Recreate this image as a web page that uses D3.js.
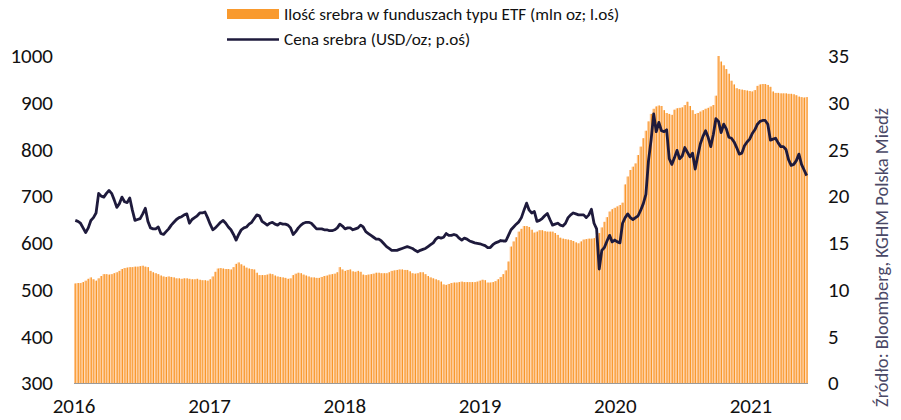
<!DOCTYPE html>
<html>
<head>
<meta charset="utf-8">
<script src="https://cdn.jsdelivr.net/npm/d3@7"></script>
<style>
  body { margin: 0; background: #fff; }
  text { font-family: Carlito, Calibri, Lato, sans-serif; }
</style>
</head>
<body>
<script>
let w = 901;
let h = 420;

// weekly observations, first week starting 2016-01-01
const startDate = new Date(2016, 0, 1);

// ETF silver holdings, mln oz (left axis)
const etfHoldings = [
  513, 514, 514, 516, 519, 523, 526, 522, 519, 524,
  529, 533, 533, 532, 533, 535, 537, 540, 544, 546,
  547, 548, 548, 549, 549, 550, 551, 549, 548, 540,
  537, 535, 533, 530, 528, 527, 528, 527, 526, 524,
  524, 523, 524, 524, 523, 522, 522, 523, 521, 520,
  520, 519, 522, 528, 538, 545, 546, 545, 544, 544,
  543, 548, 555, 558, 554, 551, 547, 545, 544, 543,
  536, 531, 531, 531, 532, 534, 533, 530, 528, 527,
  526, 525, 523, 524, 531, 534, 536, 535, 532, 530,
  528, 526, 526, 525, 525, 527, 529, 530, 532, 533,
  534, 537, 548, 543, 540, 542, 543, 539, 538, 540,
  538, 532, 531, 532, 533, 534, 536, 536, 535, 535,
  535, 537, 540, 541, 542, 543, 543, 542, 542, 539,
  535, 534, 535, 537, 537, 533, 529, 526, 524, 522,
  520, 517, 511, 510, 512, 514, 515, 515, 516, 517,
  516, 516, 516, 516, 516, 517, 519, 521, 520, 515,
  515, 516, 518, 522, 527, 533, 541, 560, 592, 603,
  612, 624, 630, 636, 636, 634, 628, 622, 624, 627,
  627, 625, 624, 624, 624, 621, 617, 611, 609, 608,
  607, 606, 604, 601, 599, 603, 607, 608, 609, 609,
  610, 614, 621, 633, 645, 655, 667, 672, 675, 678,
  681, 686, 725, 742, 756, 763, 770, 788, 806, 824,
  840, 860, 876, 887, 892, 894, 893, 884, 878, 876,
  874, 885, 888, 889, 890, 895, 902, 893, 884, 876,
  878, 881, 884, 887, 889, 892, 895, 915, 1000, 988,
  980, 972, 962, 947, 939, 931, 929, 928, 927, 926,
  925, 924, 927, 936, 939, 940, 940, 938, 934, 924,
  921, 921, 920, 920, 920, 919, 919, 918, 916, 913,
  912, 911, 912
];

// silver price, USD/oz (right axis)
const silverPrice = [
  17.4, 17.3, 17.1, 16.6, 16.1, 16.6, 17.4, 17.7, 18.2, 20.3,
  20.0, 19.9, 20.3, 20.6, 20.3, 19.6, 18.8, 19.2, 19.9, 19.4,
  19.3, 19.8, 18.5, 17.4, 17.5, 17.6, 18.1, 18.7, 17.3, 16.6,
  16.5, 16.5, 16.7, 16.0, 15.9, 16.2, 16.5, 16.9, 17.2, 17.5,
  17.7, 17.8, 18.0, 18.1, 17.1, 17.5, 17.7, 17.9, 18.2, 18.2,
  18.3, 17.7, 17.0, 16.4, 16.6, 16.9, 17.2, 17.4, 17.1, 16.7,
  16.4, 15.9, 15.3, 15.9, 16.4, 16.6, 16.7, 17.0, 17.2, 17.6,
  18.0, 17.9, 17.3, 17.1, 16.9, 17.1, 17.2, 17.0, 16.9, 17.1,
  17.0, 17.0, 16.9, 16.6, 15.9, 16.2, 16.6, 16.9, 17.1, 17.2,
  17.2, 17.1, 16.8, 16.5, 16.5, 16.5, 16.4, 16.4, 16.3, 16.3,
  16.4, 16.6, 17.0, 16.8, 16.5, 16.6, 16.6, 16.4, 16.5, 16.6,
  16.9, 16.7, 16.2, 16.0, 15.8, 15.6, 15.4, 15.4, 15.2, 14.9,
  14.6, 14.4, 14.2, 14.2, 14.2, 14.3, 14.4, 14.5, 14.6, 14.5,
  14.4, 14.2, 14.05, 14.2, 14.3, 14.4, 14.6, 14.8, 15.0, 15.4,
  15.6, 15.5, 15.6, 16.0, 15.8, 15.8, 15.9, 15.8, 15.5, 15.3,
  15.5, 15.4, 15.2, 15.1, 15.0, 14.95, 14.9, 14.8, 14.7, 14.5,
  14.5, 14.8, 15.0, 15.1, 15.25, 15.2, 15.2, 15.8, 16.4, 16.7,
  17.0, 17.25, 17.7, 18.5, 19.25, 18.5, 18.2, 18.35, 17.3, 17.4,
  17.6, 17.9, 18.15, 17.5, 16.9, 17.0, 17.1, 16.9, 16.8, 17.1,
  17.7, 18.0, 18.2, 18.1, 18.0, 18.0, 18.0, 17.7, 18.0, 18.6,
  17.1, 16.5, 12.2, 14.2, 14.5, 15.2, 15.8, 15.1, 15.3, 15.1,
  15.0, 17.1, 17.7, 18.1, 17.7, 17.5, 17.7, 17.9, 18.5, 19.2,
  20.2, 23.8, 26.0, 28.8, 26.9, 27.9, 27.0, 26.9, 27.1, 24.0,
  23.4, 24.1, 24.9, 24.0, 24.3, 25.2, 24.7, 24.2, 24.6, 22.9,
  24.3, 25.6, 26.4, 27.0, 26.3, 25.3, 26.6, 28.3, 28.0, 26.8,
  27.7, 27.2, 26.3, 26.2, 25.8, 25.2, 24.5, 24.6, 25.4, 25.8,
  26.1, 26.7, 27.1, 27.7, 28.0, 28.1, 28.1, 27.7, 26.0, 26.1,
  26.2, 25.7, 25.3, 25.3, 25.0, 23.9, 23.3, 23.4, 23.8, 24.5,
  23.4, 22.8, 22.2
];

const leftTicks = [300, 400, 500, 600, 700, 800, 900, 1000];
const rightTicks = [0, 5, 10, 15, 20, 25, 30, 35];
const yearTicks = ["2016", "2017", "2018", "2019", "2020", "2021"];

const legendLabels = [
  "Ilość srebra w funduszach typu ETF (mln oz; l.oś)",
  "Cena srebra (USD/oz; p.oś)",
];
const sourceNote = "Źródło: Bloomberg, KGHM Polska Miedź";

const data = etfHoldings.map(function (v, i) {
  return { date: d3.timeDay.offset(startDate, i * 7), etf: v, price: silverPrice[i] };
});

let plotLeft = 74;
let plotRight = 808;
let plotTop = 56;
let plotBottom = 383;

let x = d3
  .scaleTime()
  .domain([startDate, d3.timeDay.offset(startDate, etfHoldings.length * 7)])
  .range([plotLeft, plotRight]);
let step = x(d3.timeDay.offset(startDate, 7)) - x(startDate);

let yLeft = d3.scaleLinear().domain([300, 1000]).range([plotBottom, plotTop]);
let yRight = d3.scaleLinear().domain([0, 35]).range([plotBottom, plotTop]);

let svg = d3.select("body").append("svg").attr("width", w).attr("height", h);

// bars: light fill with a darker stripe
let bars = svg.append("g");
bars
  .selectAll("rect.fill")
  .data(data)
  .enter()
  .append("rect")
  .attr("class", "fill")
  .attr("x", function (d) {
    return x(d.date);
  })
  .attr("width", step - 0.4)
  .attr("y", function (d) {
    return yLeft(d.etf);
  })
  .attr("height", function (d) {
    return plotBottom - yLeft(d.etf);
  })
  .attr("fill", "#FFC58E");

bars
  .selectAll("rect.stripe")
  .data(data)
  .enter()
  .append("rect")
  .attr("class", "stripe")
  .attr("x", function (d) {
    return x(d.date) + step * 0.5;
  })
  .attr("width", 0.9)
  .attr("y", function (d) {
    return yLeft(d.etf);
  })
  .attr("height", function (d) {
    return plotBottom - yLeft(d.etf);
  })
  .attr("fill", "#F7921E");

// baseline
svg
  .append("line")
  .attr("x1", plotLeft)
  .attr("x2", plotRight)
  .attr("y1", plotBottom + 0.5)
  .attr("y2", plotBottom + 0.5)
  .attr("stroke", "#9a9a9a")
  .attr("stroke-width", 1.2);

// price line
const lineFunc = d3
  .line()
  .x(function (d) {
    return x(d.date) + step / 2;
  })
  .y(function (d) {
    return yRight(d.price);
  })
  .curve(d3.curveLinear);

svg
  .append("path")
  .attr("d", lineFunc(data))
  .attr("stroke", "#1E1A3C")
  .attr("stroke-width", 2.8)
  .attr("stroke-linejoin", "round")
  .attr("fill", "none");

// left axis labels
svg
  .selectAll("text.yl")
  .data(leftTicks)
  .enter()
  .append("text")
  .attr("class", "yl")
  .text(function (d) {
    return d;
  })
  .attr("x", 53)
  .attr("y", function (d) {
    return yLeft(d);
  })
  .attr("dy", ".35em")
  .attr("text-anchor", "end")
  .attr("font-size", "21px")
  .attr("fill", "#111");

// right axis labels
svg
  .selectAll("text.yr")
  .data(rightTicks)
  .enter()
  .append("text")
  .attr("class", "yr")
  .text(function (d) {
    return d;
  })
  .attr("x", 828)
  .attr("y", function (d) {
    return yRight(d);
  })
  .attr("dy", ".35em")
  .attr("text-anchor", "start")
  .attr("font-size", "21px")
  .attr("fill", "#111");

// year labels
svg
  .selectAll("text.yx")
  .data(yearTicks)
  .enter()
  .append("text")
  .attr("class", "yx")
  .text(function (d) {
    return d;
  })
  .attr("x", function (d) {
    return x(new Date(+d, 0, 1));
  })
  .attr("y", 413)
  .attr("text-anchor", "middle")
  .attr("font-size", "21px")
  .attr("fill", "#111");

// legend
svg
  .append("rect")
  .attr("x", 227)
  .attr("y", 9)
  .attr("width", 52)
  .attr("height", 10)
  .attr("fill", "#F99A2E");
svg
  .append("line")
  .attr("x1", 227)
  .attr("x2", 279)
  .attr("y1", 39.5)
  .attr("y2", 39.5)
  .attr("stroke", "#1E1A3C")
  .attr("stroke-width", 2.6);

svg
  .selectAll("text.legend")
  .data(legendLabels)
  .enter()
  .append("text")
  .attr("class", "legend")
  .text(function (d) {
    return d;
  })
  .attr("x", 284)
  .attr("y", function (d, i) {
    return 14 + i * 25;
  })
  .attr("dy", ".35em")
  .attr("font-size", "17.2px")
  .attr("fill", "#111");

// source note
svg
  .append("text")
  .text(sourceNote)
  .attr("transform", "translate(888,407) rotate(-90)")
  .attr("font-size", "18.5px")
  .attr("fill", "#4A4866");
</script>
</body>
</html>
